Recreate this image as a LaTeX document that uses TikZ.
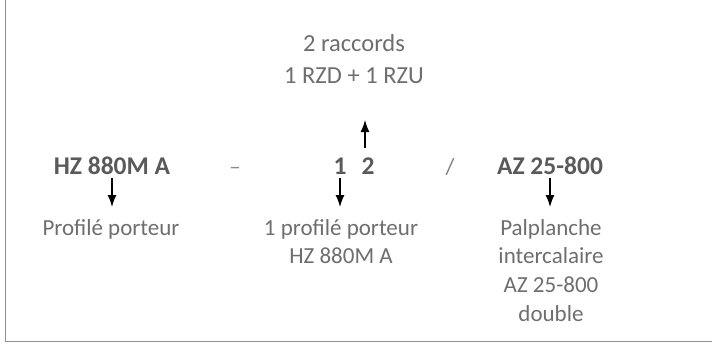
\documentclass[tikz,border=0pt]{standalone}
\usepackage{fontspec}
\setmainfont{Carlito}
\usetikzlibrary{arrows.meta}
\definecolor{txtgray}{HTML}{6E6E6E}
\definecolor{boldgray}{HTML}{5A5A5A}
\definecolor{framegray}{HTML}{929292}
\newcommand{\firstline}{\rule{0pt}{17pt}}
\tikzset{
  label/.style={font=\fontsize{23}{28.7}\selectfont, text=txtgray, align=center, inner sep=0pt},
  code/.style={font=\fontsize{25.5}{28}\selectfont\bfseries, text=boldgray, inner sep=0pt, anchor=base},
  pointer/.style={-{Latex[length=12pt,width=9pt]}, line width=1.3pt, black},
}
\begin{document}
\begin{tikzpicture}[x=1pt,y=-1pt]
    \useasboundingbox (0,0) rectangle (712,343);
    \draw[framegray, line width=1.8pt] (5.5,0) -- (5.5,341.5) -- (712,341.5);
    % top note
    \node[label, anchor=north, font=\fontsize{24.5}{32.5}\selectfont] (raccords) at (354,34) {\firstline 2 raccords\\1 RZD + 1 RZU};
    % designation
    \node[code] (hz) at (112,174) {HZ 880M A};
    \node[label, anchor=base, text=txtgray!80] (dash) at (235,174) {–};
    \node[code] (one) at (340,174) {1};
    \node[code] (two) at (368,174) {2};
    \node[label, anchor=base, text=txtgray!90] (slash) at (450,174) {/};
    \node[code] (az) at (550,174) {AZ 25-800};
    % descriptions
    \node[label, anchor=north] (porteur) at (111,218) {\firstline Profilé porteur};
    \node[label, anchor=north] (nombre) at (341,218) {\firstline 1 profilé porteur\\HZ 880M A};
    \node[label, anchor=north] (inter) at (551,218) {\firstline Palplanche\\intercalaire\\AZ 25-800\\double};
    \coordinate (up) at (365,120);
    \draw[pointer] ([yshift=-4pt]hz.south) -- ([yshift=11pt]hz.south |- porteur.north);
    \draw[pointer] ([yshift=-4pt]one.south) -- ([yshift=11pt]one.south |- nombre.north);
    \draw[pointer] ([yshift=-4pt]az.south) -- ([yshift=11pt]az.south |- inter.north);
    \draw[pointer] ([yshift=9pt]up |- two.north) -- (up);
\end{tikzpicture}
\end{document}
